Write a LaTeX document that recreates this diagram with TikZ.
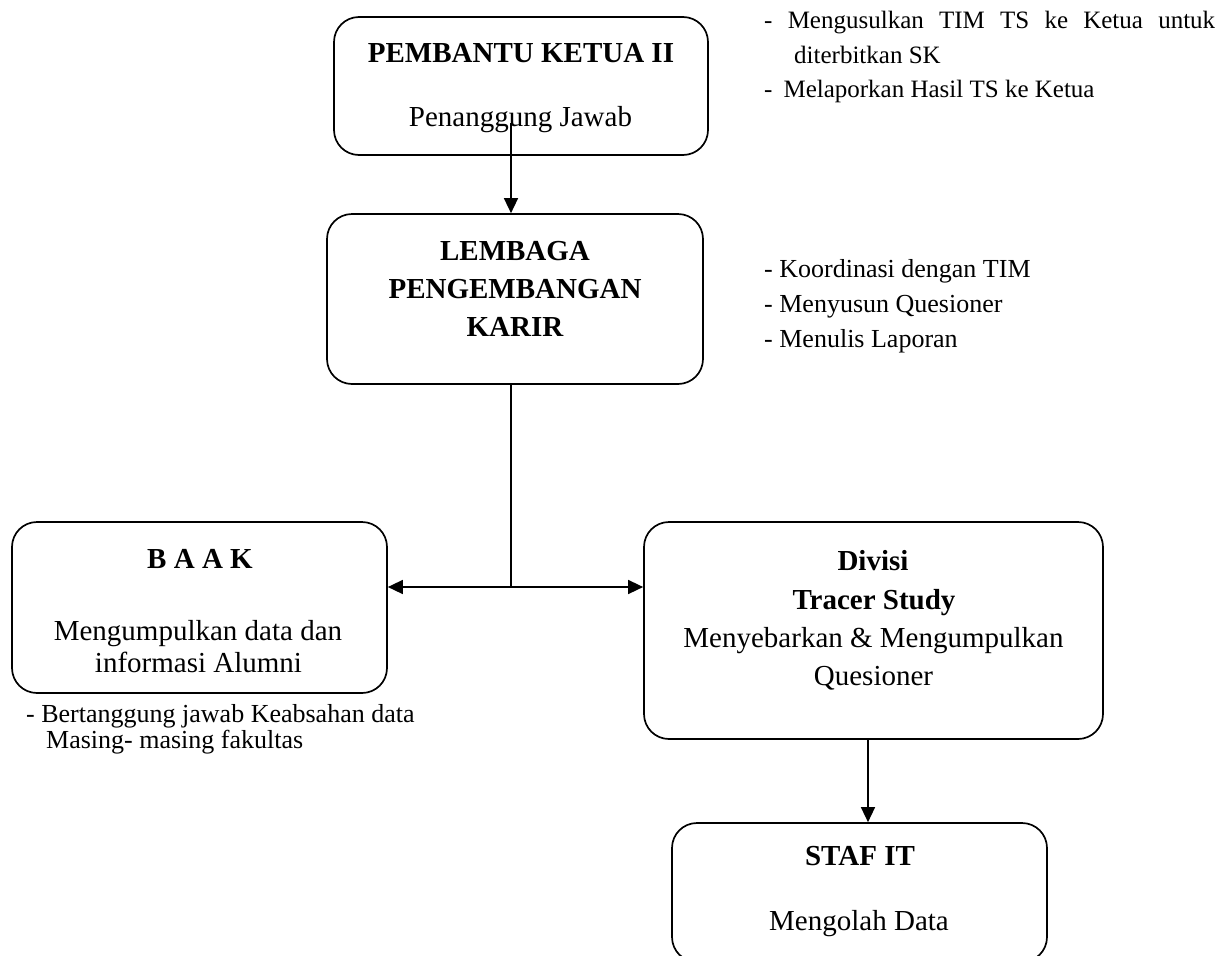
\documentclass[tikz,border=0pt]{standalone}
\usepackage{fontspec}
\setmainfont{Liberation Serif}
\usetikzlibrary{arrows.meta}
\begin{document}
\begin{tikzpicture}[x=1pt,y=-1pt,
  box/.style={draw, line width=1.7pt, rounded corners=25pt, inner sep=0pt},
  ttl/.style={inner sep=0pt, anchor=base, font=\fontsize{29}{34}\bfseries},
  txt/.style={inner sep=0pt, anchor=base, font=\fontsize{29}{34}\selectfont},
  note/.style={inner sep=0pt, anchor=base west, font=\fontsize{26}{30}\selectfont},
  topnote/.style={note, font=\fontsize{25}{30}\selectfont},
  conn/.style={line width=1.5pt},
  arr/.style={conn, -{Triangle[length=15pt,width=14pt]}}
]
\useasboundingbox (0,0) rectangle (1224,956);
\clip (0,0) rectangle (1224,956);

% boxes
\node[box, minimum width=374pt, minimum height=138pt] (b1) at (521,86) {};
\node[box, minimum width=376pt, minimum height=170pt] (b2) at (515,299) {};
\node[box, minimum width=375pt, minimum height=171pt] (b3) at (199.5,607.5) {};
\node[box, minimum width=459pt, minimum height=217pt] (b4) at (873.5,630.5) {};
\node[box, minimum width=375pt, minimum height=139pt] (b5) at (859.5,892.5) {};

% box texts
\node[ttl] (t1a) at (521,62) {PEMBANTU KETUA II};
\node[txt] (t1b) at (520.5,126) {Penanggung Jawab};

\node[ttl] (t2a) at (515,260) {LEMBAGA};
\node[ttl] (t2b) at (515,298) {PENGEMBANGAN};
\node[ttl] (t2c) at (515,336) {KARIR};

\node[ttl] (t3a) at (200,568) {B A A K};
\node[txt] (t3b) at (198,640) {Mengumpulkan data dan};
\node[txt] (t3c) at (198.5,672) {informasi Alumni};

\node[ttl] (t4a) at (873,570) {Divisi};
\node[ttl] (t4b) at (874,609) {Tracer Study};
\node[txt] (t4c) at (873.5,647) {Menyebarkan \& Mengumpulkan};
\node[txt] (t4d) at (873.5,685) {Quesioner};

\node[ttl] (t5a) at (860,865) {STAF IT};
\node[txt] (t5b) at (859,930) {Mengolah Data};

% side notes
\node[topnote] (n1a) at (764,28) {\makebox[451pt][s]{- Mengusulkan TIM TS ke Ketua untuk}};
\node[topnote] (n1b) at (794,63) {diterbitkan SK};
\node[topnote] (n1c) at (764,97) {-\hspace{11pt}Melaporkan Hasil TS ke Ketua};

\node[note] (n2a) at (764,277) {- Koordinasi dengan TIM};
\node[note] (n2b) at (764,312) {- Menyusun Quesioner};
\node[note] (n2c) at (764,347) {- Menulis Laporan};

\node[note] (n3a) at (26,722) {- Bertanggung jawab Keabsahan data};
\node[note] (n3b) at (46,748) {Masing- masing fakultas};

% connectors
\coordinate (a1) at (511,123);
\draw[arr] (a1) -- (a1 |- b2.north);
\coordinate (j) at (511,587);
\draw[conn] (j |- b2.south) -- (j);
\draw[arr] (j) -- (b3.east |- j);
\draw[arr] (j) -- (b4.west |- j);
\coordinate (k) at (868,0);
\draw[arr] (k |- b4.south) -- (k |- b5.north);
\end{tikzpicture}
\end{document}
